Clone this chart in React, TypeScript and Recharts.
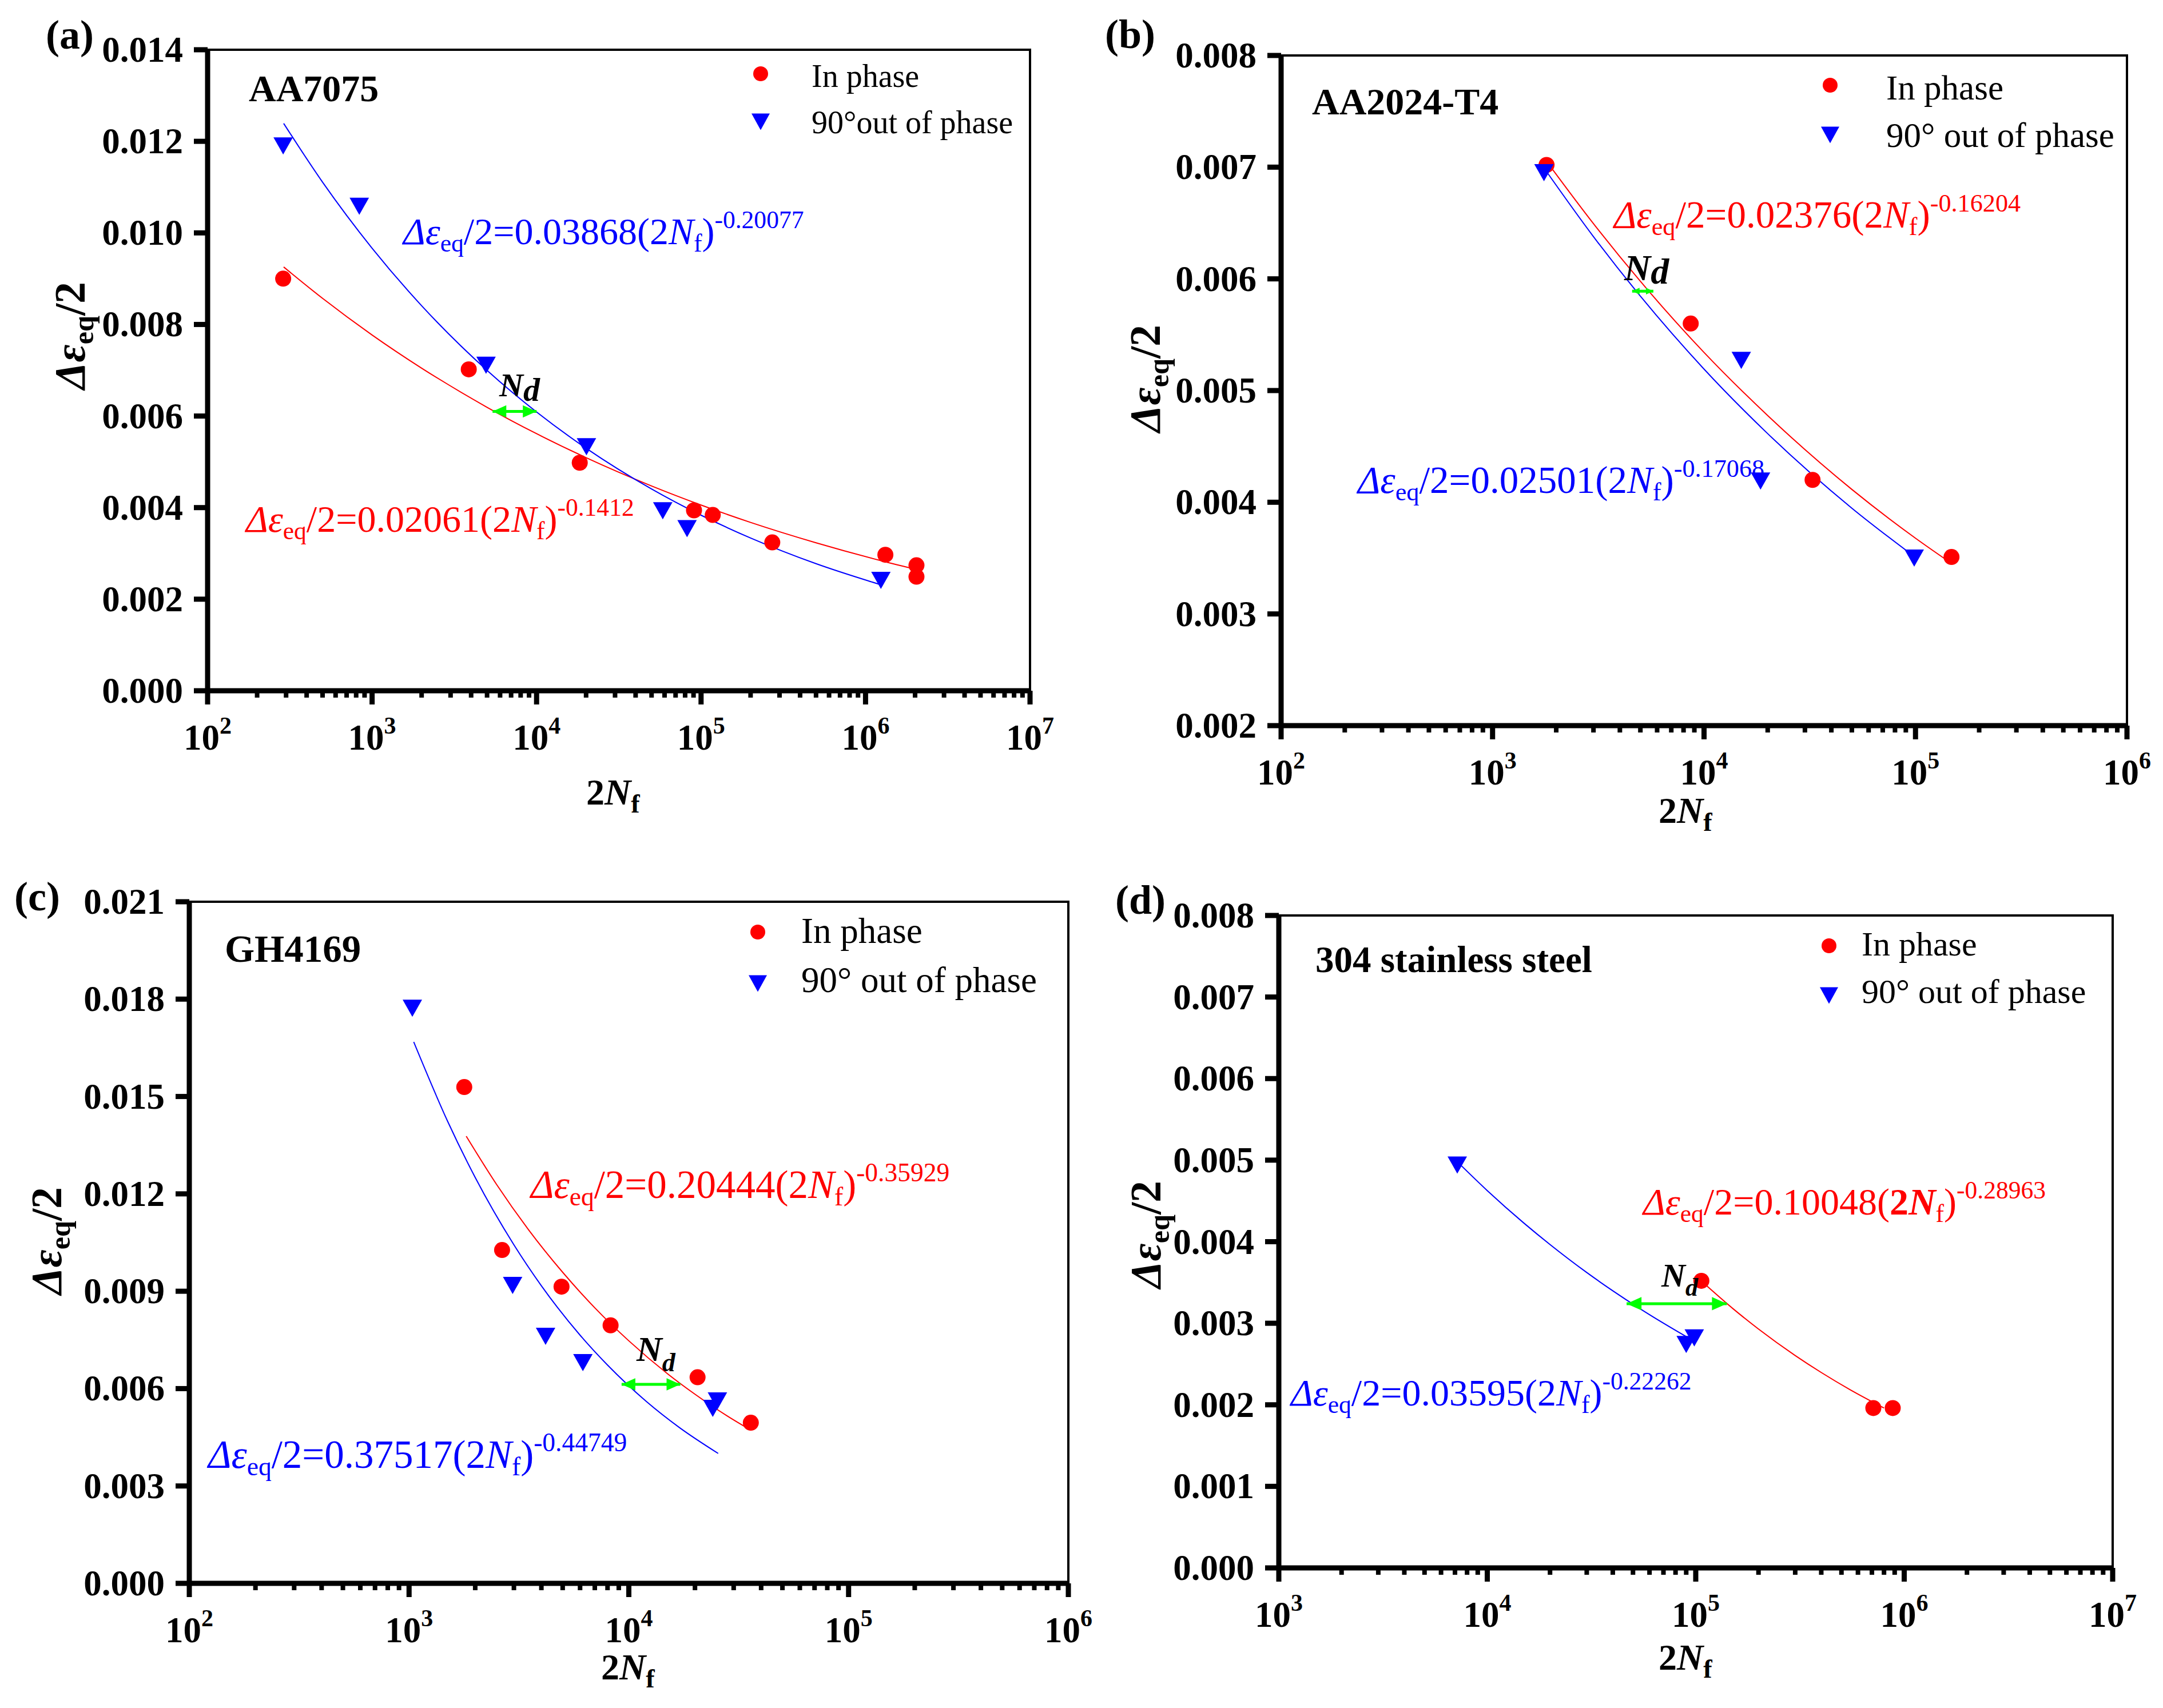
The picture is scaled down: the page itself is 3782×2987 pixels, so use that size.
import React from 'react';
import { ComposedChart, Scatter, Line, XAxis, YAxis, ReferenceArea } from 'recharts';

// ─── Colours / fonts ───────────────────────────────────────────────────────────
const FONT = "'Liberation Serif', 'Times New Roman', serif";
const RED = '#FF0000';
const BLUE = '#0000FF';
const GREEN = '#00FF00';

// ─── (a) AA7075 ────────────────────────────────────────────────────────────────
const aInPhase = [[288, 0.009], [3870, 0.00702], [18300, 0.00498], [90600, 0.00394], [117800, 0.00384], [271000, 0.00324], [1320000, 0.00297], [2040000, 0.00274], [2040000, 0.00249]];
const aOutPhase = [[288, 0.0119], [836, 0.01058], [4930, 0.00711], [20100, 0.00533], [58500, 0.00393], [82200, 0.00354], [1240000, 0.00241]];
const aFitIn = [[290, 0.009256], [500, 0.00857], [1000, 0.00777], [2000, 0.007046], [5000, 0.006191], [1e4, 0.005614], [2e4, 0.005091], [5e4, 0.004473], [1e5, 0.004056], [2e5, 0.003677], [5e5, 0.003232], [1.24e6, 0.002842], [2.1e6, 0.002638]];
const aFitOut = [[290, 0.01239], [500, 0.011108], [1000, 0.009666], [2000, 0.00841], [5000, 0.006997], [1e4, 0.006088], [2e4, 0.005297], [5e4, 0.004407], [1e5, 0.003834], [2e5, 0.003336], [5e5, 0.002775], [1.24e6, 0.002314]];
const aNd = [[5400, 0.0061], [10000, 0.0061]];
const aXDecades = [1e2, 1e3, 1e4, 1e5, 1e6, 1e7];
const aYTicks = [0, 0.002, 0.004, 0.006, 0.008, 0.01, 0.012, 0.014];

// ─── (b) AA2024-T4 ─────────────────────────────────────────────────────────────
const bInPhase = [[1800, 0.00702], [8650, 0.0056], [32600, 0.0042], [148000, 0.00351]];
const bOutPhase = [[1750, 0.00695], [15000, 0.00527], [18500, 0.00419], [98600, 0.0035]];
const bFitIn = [[1800, 0.007052], [3000, 0.006494], [5000, 0.005978], [1e4, 0.005341], [2e4, 0.004776], [5e4, 0.004115], [1e5, 0.003678], [1.5e5, 0.003445]];
const bFitOut = [[1750, 0.006993], [3000, 0.006378], [5000, 0.005845], [1e4, 0.005192], [2e4, 0.004614], [5e4, 0.003947], [1e5, 0.003506]];
const bNd = [[4570, 0.00589], [5760, 0.00589]];
const bXDecades = [1e2, 1e3, 1e4, 1e5, 1e6];
const bYTicks = [0.002, 0.003, 0.004, 0.005, 0.006, 0.007, 0.008];

// ─── (c) GH4169 ────────────────────────────────────────────────────────────────
const cInPhase = [[1783, 0.01529], [2650, 0.01027], [4940, 0.00914], [8260, 0.00795], [20550, 0.00635], [35900, 0.00495]];
const cOutPhase = [[1035, 0.01772], [2960, 0.00918], [4180, 0.00761], [6180, 0.0068], [24100, 0.00539], [25300, 0.00562]];
const cFitIn = [[1820, 0.013777], [2500, 0.012293], [3500, 0.010891], [5000, 0.009584], [7000, 0.00849], [1e4, 0.007472], [1.5e4, 0.006458], [2e4, 0.005827], [2.8e4, 0.00516], [3.6e4, 0.004716]];
const cFitOut = [[1050, 0.01668], [1500, 0.014226], [2000, 0.012504], [3000, 0.01043], [4000, 0.009169], [6000, 0.007646], [8000, 0.006725], [1.2e4, 0.005607], [1.7e4, 0.004799], [2.55e4, 0.004003]];
const cNd = [[9270, 0.00613], [17150, 0.00613]];
const cXDecades = [1e2, 1e3, 1e4, 1e5, 1e6];
const cYTicks = [0, 0.003, 0.006, 0.009, 0.012, 0.015, 0.018, 0.021];

// ─── (d) 304 stainless steel ───────────────────────────────────────────────────
const dInPhase = [[106400, 0.00352], [711000, 0.00196], [881000, 0.00196]];
const dOutPhase = [[7180, 0.00494], [90000, 0.00274], [98400, 0.00282]];
const dFitIn = [[1.06e5, 0.003521], [1.5e5, 0.003184], [2e5, 0.002929], [3e5, 0.002604], [4e5, 0.002396], [5.5e5, 0.002185], [8e5, 0.001961]];
const dFitOut = [[7200, 0.004977], [1e4, 0.004626], [1.5e4, 0.004227], [2e4, 0.003965], [3e4, 0.003622], [4e4, 0.003398], [6e4, 0.003105], [9e4, 0.002836]];
const dNd = [[46600, 0.00324], [141000, 0.00324]];
const dXDecades = [1e3, 1e4, 1e5, 1e6, 1e7];
const dYTicks = [0, 0.001, 0.002, 0.003, 0.004, 0.005, 0.006, 0.007, 0.008];

const pts = (a: number[][]) => a.map(([x, y]) => ({ x, y }));

// plot-area boxes in page pixels: [left, top, right, bottom]
const PANELS = [
  { box: [363, 87, 1801, 1208], xDec: aXDecades, yTicks: aYTicks, inP: aInPhase, outP: aOutPhase, fitIn: aFitIn, fitOut: aFitOut, nd: aNd, head: 24 },
  { box: [2240, 97, 3719, 1269], xDec: bXDecades, yTicks: bYTicks, inP: bInPhase, outP: bOutPhase, fitIn: bFitIn, fitOut: bFitOut, nd: bNd, head: 13 },
  { box: [331, 1577, 1868, 2769], xDec: cXDecades, yTicks: cYTicks, inP: cInPhase, outP: cOutPhase, fitIn: cFitIn, fitOut: cFitOut, nd: cNd, head: 24 },
  { box: [2236, 1601, 3694, 2742], xDec: dXDecades, yTicks: dYTicks, inP: dInPhase, outP: dOutPhase, fitIn: dFitIn, fitOut: dFitOut, nd: dNd, head: 26 },
];

const TICK_FS = 63;

function triPoints(cx: number, cy: number, w = 34, h = 30) {
  return `${cx - w / 2},${cy - h / 2} ${cx + w / 2},${cy - h / 2} ${cx},${cy + h / 2}`;
}

const Dot = (p: any) => <circle cx={p.cx} cy={p.cy} r={14} fill={RED} />;
const Tri = (p: any) => <polygon points={triPoints(p.cx, p.cy)} fill={BLUE} />;

function XTick(props: any) {
  const { x, y, payload } = props;
  const lg = Math.log10(payload.value);
  const e = Math.round(lg);
  const major = Math.abs(lg - e) < 1e-6;
  return (
    <g>
      <line x1={x} x2={x} y1={y} y2={y + (major ? 24 : 12)} stroke="#000" strokeWidth={major ? 9 : 8} />
      {major && (
        <text x={x} y={y + 103} textAnchor="middle" fontFamily={FONT} fontWeight="bold" fontSize={TICK_FS} fill="#000">
          10<tspan fontSize={42} dy={-28}>{e}</tspan>
        </text>
      )}
    </g>
  );
}

function YTick(props: any) {
  const { x, y, payload } = props;
  return (
    <g>
      <line x1={x} x2={x - 24} y1={y} y2={y} stroke="#000" strokeWidth={9} />
      <text x={x - 43} y={y + 21} textAnchor="end" fontFamily={FONT} fontWeight="bold" fontSize={TICK_FS} fill="#000">
        {Number(payload.value).toFixed(3)}
      </text>
    </g>
  );
}

function Panel({ p }: { p: (typeof PANELS)[number] }) {
  const YW = 250, XH = 160, ML = 10, MT = 60, MR = 90, MB = 10;
  const [l, t, r, b] = p.box;
  const xTicks: number[] = [];
  p.xDec.forEach((d, i) => {
    xTicks.push(d);
    if (i < p.xDec.length - 1) for (let k = 2; k <= 9; k++) xTicks.push(d * k);
  });
  const xMin = p.xDec[0], xMax = p.xDec[p.xDec.length - 1];
  const yMin = p.yTicks[0], yMax = p.yTicks[p.yTicks.length - 1];
  const h = p.head;
  const HeadL = (q: any) => (
    <polygon points={`${q.cx},${q.cy} ${q.cx + h},${q.cy - h * 0.45} ${q.cx + h},${q.cy + h * 0.45}`} fill={GREEN} />
  );
  const HeadR = (q: any) => (
    <polygon points={`${q.cx},${q.cy} ${q.cx - h},${q.cy - h * 0.45} ${q.cx - h},${q.cy + h * 0.45}`} fill={GREEN} />
  );
  return (
    <div style={{ position: 'absolute', left: l - ML - YW, top: t - MT }}>
      <ComposedChart width={r - l + ML + YW + MR} height={b - t + MT + XH + MB} margin={{ left: ML, top: MT, right: MR, bottom: MB }}>
        <XAxis
          type="number" dataKey="x" scale="log" domain={[xMin, xMax]} allowDataOverflow
          ticks={xTicks} interval={0} tick={(q: any) => <XTick {...q} />}
          tickSize={0} tickMargin={0} tickLine={false}
          axisLine={{ stroke: '#000', strokeWidth: 9 }} height={XH}
        />
        <YAxis
          type="number" dataKey="y" domain={[yMin, yMax]} allowDataOverflow
          ticks={p.yTicks} interval={0} tick={(q: any) => <YTick {...q} />}
          tickSize={0} tickMargin={0} tickLine={false}
          axisLine={{ stroke: '#000', strokeWidth: 9 }} width={YW}
        />
        <ReferenceArea x1={xMin} x2={xMax} y1={yMin} y2={yMax} fill="none" fillOpacity={0} stroke="#000" strokeWidth={4} ifOverflow="visible" />
        <Line data={pts(p.fitIn)} dataKey="y" type="monotone" stroke={RED} strokeWidth={2} dot={false} isAnimationActive={false} />
        <Line data={pts(p.fitOut)} dataKey="y" type="monotone" stroke={BLUE} strokeWidth={2} dot={false} isAnimationActive={false} />
        <Scatter data={pts(p.inP)} dataKey="y" shape={Dot} isAnimationActive={false} />
        <Scatter data={pts(p.outP)} dataKey="y" shape={Tri} isAnimationActive={false} />
        <Line data={pts(p.nd)} dataKey="y" type="linear" stroke={GREEN} strokeWidth={5} dot={false} isAnimationActive={false} />
        <Scatter data={pts(p.nd.slice(0, 1))} dataKey="y" shape={HeadL} isAnimationActive={false} />
        <Scatter data={pts(p.nd.slice(1))} dataKey="y" shape={HeadR} isAnimationActive={false} />
      </ComposedChart>
    </div>
  );
}

// ─── Text helpers (overlay) ────────────────────────────────────────────────────
function Eq({ x, y, color, coef, expo, fs, boldN = false }: any) {
  const s = fs * 0.66, sub = fs * 0.19, sup = fs * 0.42;
  const w = boldN ? 'bold' : 'normal';
  return (
    <text x={x} y={y} fill={color} fontSize={fs} fontFamily={FONT}>
      <tspan fontStyle="italic">Δε</tspan>
      <tspan fontSize={s} dy={sub}>eq</tspan>
      <tspan dy={-sub}>{`/2=${coef}(`}</tspan>
      <tspan fontWeight={w}>2</tspan>
      <tspan fontStyle="italic" fontWeight={w}>N</tspan>
      <tspan fontSize={s} dy={sub}>f</tspan>
      <tspan dy={-sub}>)</tspan>
      <tspan fontSize={s} dy={-sup}>{expo}</tspan>
    </text>
  );
}

function Nd({ x, y, fs, ds, dd }: any) {
  return (
    <text x={x} y={y} fontSize={fs} fontFamily={FONT} fontWeight="bold" fontStyle="italic" fill="#000">
      N<tspan fontSize={ds} dy={dd}>d</tspan>
    </text>
  );
}

function XTitle({ x, y }: any) {
  return (
    <text x={x} y={y} fontSize={64} fontFamily={FONT} fontWeight="bold" fill="#000">
      2<tspan fontStyle="italic">N</tspan><tspan fontSize={46} dy={14}>f</tspan>
    </text>
  );
}

function YTitle({ cx, cy }: any) {
  const fs = 76;
  return (
    <text transform={`rotate(-90 ${cx} ${cy})`} x={cx} y={cy + fs * 0.33} textAnchor="middle" fontSize={fs} fontFamily={FONT} fontWeight="bold" fill="#000">
      <tspan fontStyle="italic">Δε</tspan>
      <tspan fontSize={fs * 0.66} dy={fs * 0.2}>eq</tspan>
      <tspan dy={-fs * 0.2}>/2</tspan>
    </text>
  );
}

function Legend({ x, dotY, triY, textX, b1, b2, fs, second }: any) {
  return (
    <g>
      <circle cx={x} cy={dotY} r={13} fill={RED} />
      <polygon points={triPoints(x, triY, 32, 29)} fill={BLUE} />
      <text x={textX} y={b1} fontSize={fs} fontFamily={FONT} fill="#000">In phase</text>
      <text x={textX} y={b2} fontSize={fs} fontFamily={FONT} fill="#000">{second}</text>
    </g>
  );
}

const Bold = ({ x, y, fs, children }: any) => (
  <text x={x} y={y} fontSize={fs} fontFamily={FONT} fontWeight="bold" fill="#000">{children}</text>
);

export default function App() {
  return (
    <div style={{ position: 'absolute', left: 0, top: 0, width: 3782, height: 2987, background: '#fff', overflow: 'hidden' }}>
      {PANELS.map((p, i) => <Panel key={i} p={p} />)}
      <svg width={3782} height={2987} style={{ position: 'absolute', left: 0, top: 0, pointerEvents: 'none' }}>
        {/* (a) */}
        <Bold x={80} y={85} fs={72}>(a)</Bold>
        <Bold x={435} y={177} fs={66}>AA7075</Bold>
        <Legend x={1330} dotY={129} triY={213} textX={1419} b1={152} b2={233} fs={56} second="90°out of phase" />
        <Eq x={705} y={427} color={BLUE} coef="0.03868" expo="-0.20077" fs={66} />
        <Eq x={430} y={930} color={RED} coef="0.02061" expo="-0.1412" fs={66} />
        <Nd x={873} y={693} fs={58} ds={58} dd={8} />
        <XTitle x={1025} y={1407} />
        <YTitle cx={123} cy={587} />

        {/* (b) */}
        <Bold x={1932} y={84} fs={72}>(b)</Bold>
        <Bold x={2294} y={200} fs={66}>AA2024-T4</Bold>
        <Legend x={3200} dotY={149} triY={236} textX={3298} b1={174} b2={257} fs={61} second="90° out of phase" />
        <Eq x={2822} y={398} color={RED} coef="0.02376" expo="-0.16204" fs={67} />
        <Eq x={2374} y={862} color={BLUE} coef="0.02501" expo="-0.17068" fs={67} />
        <Nd x={2840} y={490} fs={64} ds={64} dd={6} />
        <XTitle x={2900} y={1439} />
        <YTitle cx={2003} cy={662} />

        {/* (c) */}
        <Bold x={25} y={1592} fs={72}>(c)</Bold>
        <Bold x={393} y={1682} fs={67}>GH4169</Bold>
        <Legend x={1325} dotY={1630} triY={1720} textX={1401} b1={1649} b2={1735} fs={63} second="90° out of phase" />
        <Eq x={928} y={2095} color={RED} coef="0.20444" expo="-0.35929" fs={69} />
        <Eq x={364} y={2567} color={BLUE} coef="0.37517" expo="-0.44749" fs={69} />
        <Nd x={1113} y={2380} fs={62} ds={46} dd={18} />
        <XTitle x={1051} y={2937} />
        <YTitle cx={82} cy={2170} />

        {/* (d) */}
        <Bold x={1950} y={1598} fs={72}>(d)</Bold>
        <Bold x={2300} y={1700} fs={65}>304 stainless steel</Bold>
        <Legend x={3198} dotY={1654} triY={1741} textX={3255} b1={1671} b2={1754} fs={60} second="90° out of phase" />
        <Eq x={2873} y={2124} color={RED} coef="0.10048" expo="-0.28963" fs={66} boldN />
        <Eq x={2257} y={2458} color={BLUE} coef="0.03595" expo="-0.22262" fs={66} />
        <Nd x={2905} y={2250} fs={58} ds={44} dd={16} />
        <XTitle x={2900} y={2920} />
        <YTitle cx={2004} cy={2159} />
      </svg>
    </div>
  );
}
